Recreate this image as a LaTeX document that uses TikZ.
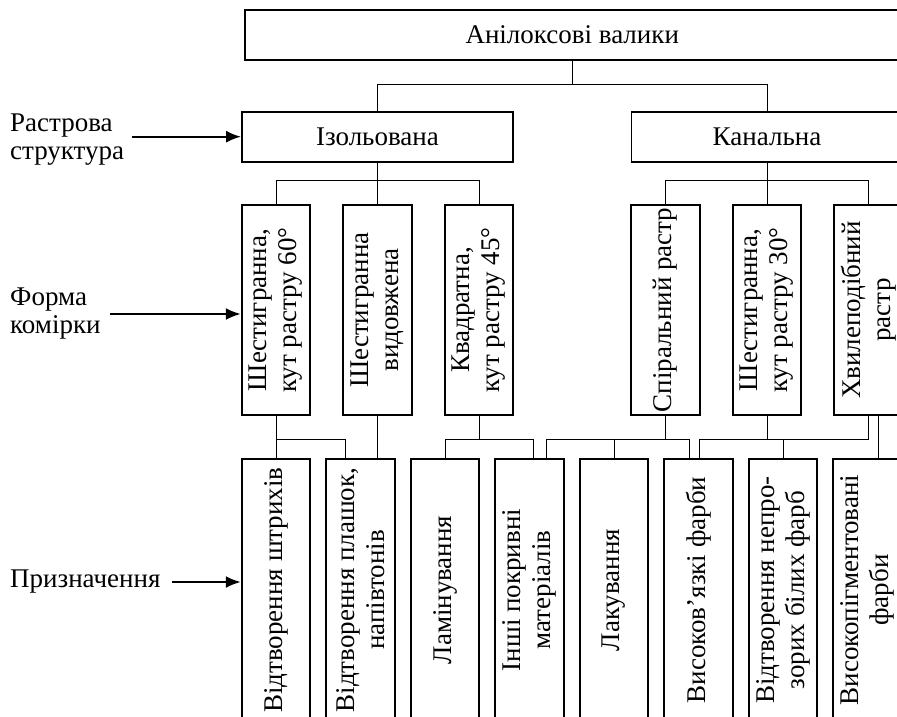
\documentclass[tikz,border=0pt]{standalone}
\usepackage{fontspec}
\setmainfont{Liberation Serif}
\usetikzlibrary{arrows.meta}
\tikzstyle{box} = [rectangle, draw, line width=1.8pt, inner sep=0pt, align=center, font=\fontsize{27}{30}\selectfont]
\tikzstyle{topbox} = [box, minimum width=654.5pt, minimum height=50pt]
\tikzstyle{wide} = [box, minimum width=271pt, minimum height=50pt]
\tikzstyle{tall} = [box, rotate=90, minimum width=210pt, minimum height=68.5pt]
\tikzstyle{low} = [box, rotate=90, minimum width=262pt, minimum height=68.5pt]
\tikzstyle{side} = [anchor=west, inner sep=0pt, align=left, font=\fontsize{27}{28}\selectfont]
\tikzstyle{link} = [line width=1pt]
\tikzstyle{arrow} = [line width=2.2pt, -{Latex[length=15pt,width=12pt]}]

\begin{document}
\begin{tikzpicture}[x=1pt, y=-1pt]
	            \useasboundingbox (0,0) rectangle (897,717);
	            % levels
	            \node [topbox] at (572.25,35) (anilox) {Анілоксові валики};
        	    \node [wide] at (377.5,136.7) (izol) {Ізольована};
        	    \node [wide] at (767,136.7) (kanal) {Канальна};

	            \node [tall] at (276,310) (hex60) {Шестигранна,\\кут растру 60°};
	            \node [tall] at (377.5,310) (hexlong) {Шестигранна\\видовжена};
	            \node [tall] at (479,310) (square45) {Квадратна,\\кут растру 45°};
	            \node [tall] at (665.5,310) (spiral) {Спіральний растр};
	            \node [tall] at (767,310) (hex30) {Шестигранна,\\кут растру 30°};
	            \node [tall] at (868.3,310) (wave) {Хвилеподібний\\растр};

	            \node [low] at (276,590) (strokes) {Відтворення штрихів};
	            \node [low] at (360.5,590) (solids) {Відтворення плашок,\\напівтонів};
	            \node [low] at (445,590) (laminate) {Ламінування};
	            \node [low] at (529.5,590) (coating) {Інші покривні\\матеріалів};
	            \node [low] at (614,590) (varnish) {Лакування};
	            \node [low] at (698.5,590) (viscous) {Високов’язкі фарби};
	            \node [low] at (783,590) (opaque) {Відтворення непро-\\зорих білих фарб};
	            \node [low] at (867.5,590) (pigment) {Високопігментовані\\фарби};

	            % side captions
	            \node [side] at (10,140) (raster) {Растрова\\структура};
	            \node [side] at (10,314) (form) {Форма\\комірки};
	            \node [side] at (10,582) (purpose) {Призначення};

	            \draw [arrow] ([xshift=8pt]raster.east |- izol.west) -- (izol.west);
	            \draw [arrow] ([xshift=9pt]form.east) -- (form.east -| hex60.north);
	            \draw [arrow] ([xshift=11pt]purpose.east) -- (purpose.east -| strokes.north);

	            % tree (rotated boxes: east = top, west = bottom)
	            \draw [link] (anilox.south) -- ++(0,24) -| (izol.north);
	            \draw [link] (anilox.south) -- ++(0,24) -| (kanal.north);
	            \draw [link] (izol.south) -- ++(0,17.5) -| (hex60.east);
	            \draw [link] (izol.south) -- (hexlong.east);
	            \draw [link] (izol.south) -- ++(0,17.5) -| (square45.east);
	            \draw [link] (kanal.south) -- ++(0,17.5) -| (spiral.east);
	            \draw [link] (kanal.south) -- (hex30.east);
	            \draw [link] (kanal.south) -- ++(0,17.5) -| (wave.east);

	            \draw [link] (hex60.west) -- (strokes.east);
	            \draw [link] (hex60.west) -- ++(0,24) -| ([xshift=-15.5pt]solids.east);
	            \draw [link] (hexlong.west) -- (hexlong.west |- solids.east);
	            \draw [link] (square45.west) -- ++(0,24) -| (laminate.east);
	            \draw [link] (square45.west) -- ++(0,24) -| ([xshift=3.5pt]coating.east);
	            \draw [link] (spiral.west) -- ++(0,24) -| ([xshift=16.5pt]coating.east);
	            \draw [link] (spiral.west) -- ++(0,24) -| (varnish.east);
	            \draw [link] (spiral.west) -- ++(0,24) -| ([xshift=-9.5pt]viscous.east);
	            \draw [link] (hex30.west) -- ++(0,24) -| ([xshift=0.5pt]viscous.east);
	            \draw [link] (hex30.west) -- ++(0,24) -| (opaque.east);
	            \draw [link] (hex30.west) -- ++(0,24) -| (wave.west);
	            \draw [link] ([xshift=10pt]wave.west) -- ([xshift=10pt]wave.west |- pigment.east);
\end{tikzpicture}
\end{document}
